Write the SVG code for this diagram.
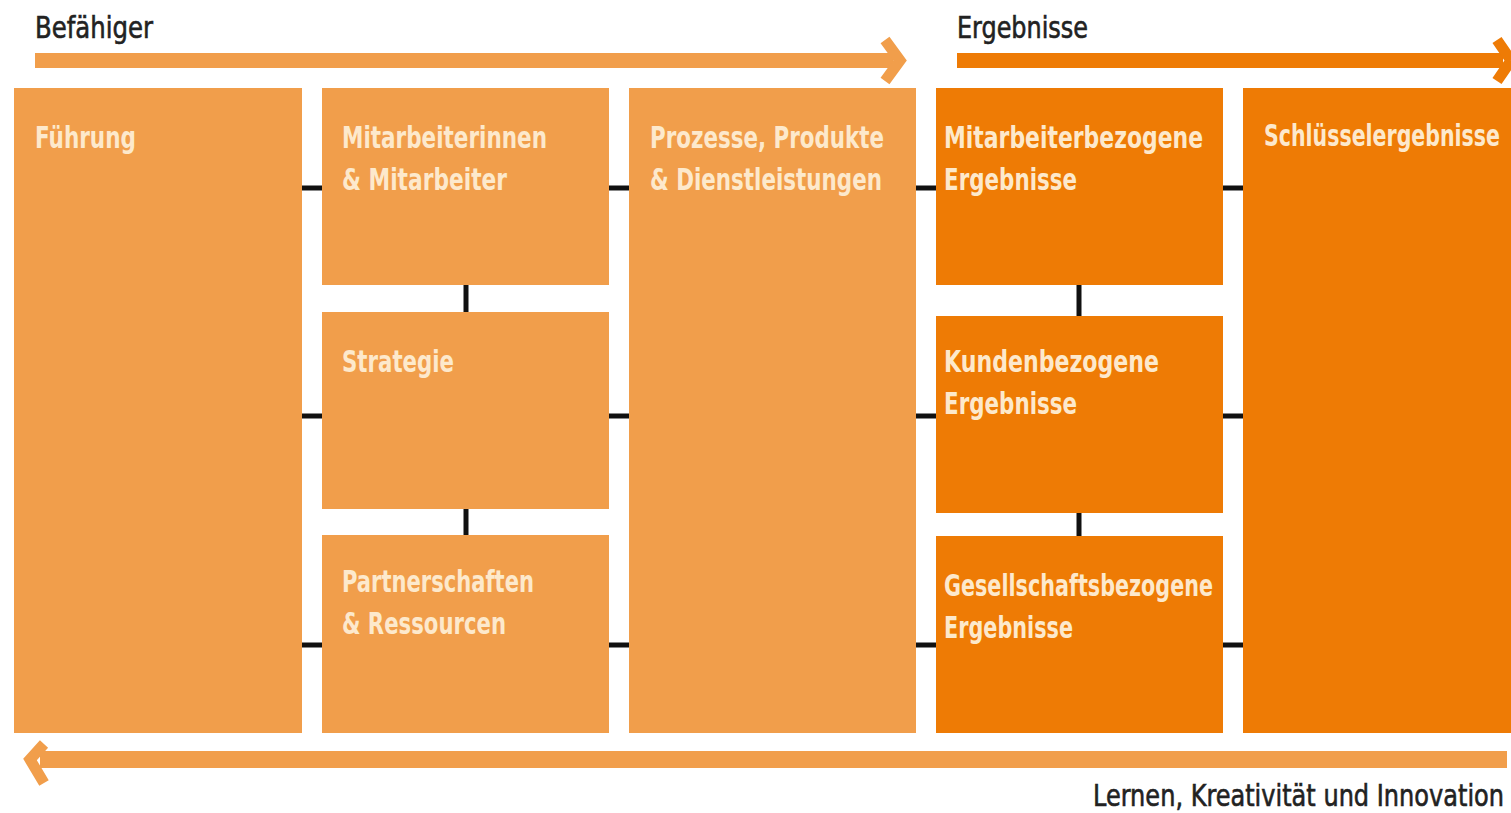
<svg xmlns="http://www.w3.org/2000/svg" width="1511" height="813" viewBox="0 0 1511 813">
<style>
.light{fill:#F19E4B}
.dark{fill:#EE7B05}
.lbl{font-family:"DejaVu Sans Condensed","Liberation Sans Narrow","Liberation Sans",sans-serif;font-weight:bold;font-size:31px;fill:#FDE9CC}
.ttl{font-family:"DejaVu Sans Condensed","Liberation Sans Narrow","Liberation Sans",sans-serif;font-size:31px;fill:#222222;stroke:#222222;stroke-width:0.6}
.con{stroke:#111111;stroke-width:5;fill:none}
.chev{fill:none;stroke-width:11;stroke-linejoin:miter}
</style>
<rect width="1511" height="813" fill="#ffffff"/>
<g id="arrows">
<rect x="35" y="53" width="858" height="15" class="light"/>
<polyline points="885,40 900,60.5 885,81" class="chev" stroke="#F19E4B"/>
<rect x="957" y="53" width="546" height="15" class="dark"/>
<polyline points="1497,40 1511,60.5 1497,81" class="chev" stroke="#EE7B05"/>
<rect x="40" y="751" width="1467" height="17" class="light"/>
<polyline points="44,744 30,759.5 44,783" class="chev" stroke="#F19E4B"/>
</g>
<g id="titles">
<text class="ttl" x="35" y="38" textLength="118" lengthAdjust="spacingAndGlyphs">Befähiger</text>
<text class="ttl" x="957" y="38" textLength="131" lengthAdjust="spacingAndGlyphs">Ergebnisse</text>
<text class="ttl" x="1504" y="806" text-anchor="end" textLength="411" lengthAdjust="spacingAndGlyphs">Lernen, Kreativität und Innovation</text>
</g>
<g id="connectors">
<line x1="302" y1="188" x2="322" y2="188" class="con"/>
<line x1="302" y1="416" x2="322" y2="416" class="con"/>
<line x1="302" y1="645" x2="322" y2="645" class="con"/>
<line x1="609" y1="188" x2="629" y2="188" class="con"/>
<line x1="609" y1="416" x2="629" y2="416" class="con"/>
<line x1="609" y1="645" x2="629" y2="645" class="con"/>
<line x1="916" y1="188" x2="936" y2="188" class="con"/>
<line x1="916" y1="416" x2="936" y2="416" class="con"/>
<line x1="916" y1="645" x2="936" y2="645" class="con"/>
<line x1="1223" y1="188" x2="1243" y2="188" class="con"/>
<line x1="1223" y1="416" x2="1243" y2="416" class="con"/>
<line x1="1223" y1="645" x2="1243" y2="645" class="con"/>
<line x1="466" y1="285" x2="466" y2="312" class="con"/>
<line x1="466" y1="509" x2="466" y2="535" class="con"/>
<line x1="1079" y1="285" x2="1079" y2="316" class="con"/>
<line x1="1079" y1="513" x2="1079" y2="536" class="con"/>
</g>
<g id="fuehrung">
<rect x="14" y="88" width="288" height="645" class="light"/>
<text class="lbl" x="35" y="148" textLength="101" lengthAdjust="spacingAndGlyphs">Führung</text>
</g>
<g id="mitarbeiter">
<rect x="322" y="88" width="287" height="197" class="light"/>
<text class="lbl" x="342" y="148" textLength="205" lengthAdjust="spacingAndGlyphs">Mitarbeiterinnen</text>
<text class="lbl" x="342" y="190" textLength="165" lengthAdjust="spacingAndGlyphs">&amp; Mitarbeiter</text>
</g>
<g id="strategie">
<rect x="322" y="312" width="287" height="197" class="light"/>
<text class="lbl" x="342" y="372" textLength="112" lengthAdjust="spacingAndGlyphs">Strategie</text>
</g>
<g id="partnerschaften">
<rect x="322" y="535" width="287" height="198" class="light"/>
<text class="lbl" x="342" y="592" textLength="192" lengthAdjust="spacingAndGlyphs">Partnerschaften</text>
<text class="lbl" x="342" y="634" textLength="164" lengthAdjust="spacingAndGlyphs">&amp; Ressourcen</text>
</g>
<g id="prozesse">
<rect x="629" y="88" width="287" height="645" class="light"/>
<text class="lbl" x="650" y="148" textLength="234" lengthAdjust="spacingAndGlyphs">Prozesse, Produkte</text>
<text class="lbl" x="650" y="190" textLength="232" lengthAdjust="spacingAndGlyphs">&amp; Dienstleistungen</text>
</g>
<g id="mitarbeiterbezogene">
<rect x="936" y="88" width="287" height="197" class="dark"/>
<text class="lbl" x="944" y="148" textLength="259" lengthAdjust="spacingAndGlyphs">Mitarbeiterbezogene</text>
<text class="lbl" x="944" y="190" textLength="133" lengthAdjust="spacingAndGlyphs">Ergebnisse</text>
</g>
<g id="kundenbezogene">
<rect x="936" y="316" width="287" height="197" class="dark"/>
<text class="lbl" x="944" y="372" textLength="215" lengthAdjust="spacingAndGlyphs">Kundenbezogene</text>
<text class="lbl" x="944" y="414" textLength="133" lengthAdjust="spacingAndGlyphs">Ergebnisse</text>
</g>
<g id="gesellschaftsbezogene">
<rect x="936" y="536" width="287" height="197" class="dark"/>
<text class="lbl" x="944" y="596" textLength="269" lengthAdjust="spacingAndGlyphs">Gesellschaftsbezogene</text>
<text class="lbl" x="944" y="638" textLength="129" lengthAdjust="spacingAndGlyphs">Ergebnisse</text>
</g>
<g id="schluesselergebnisse">
<rect x="1243" y="88" width="268" height="645" class="dark"/>
<text class="lbl" x="1500" y="146" text-anchor="end" textLength="236" lengthAdjust="spacingAndGlyphs">Schlüsselergebnisse</text>
</g>
</svg>
